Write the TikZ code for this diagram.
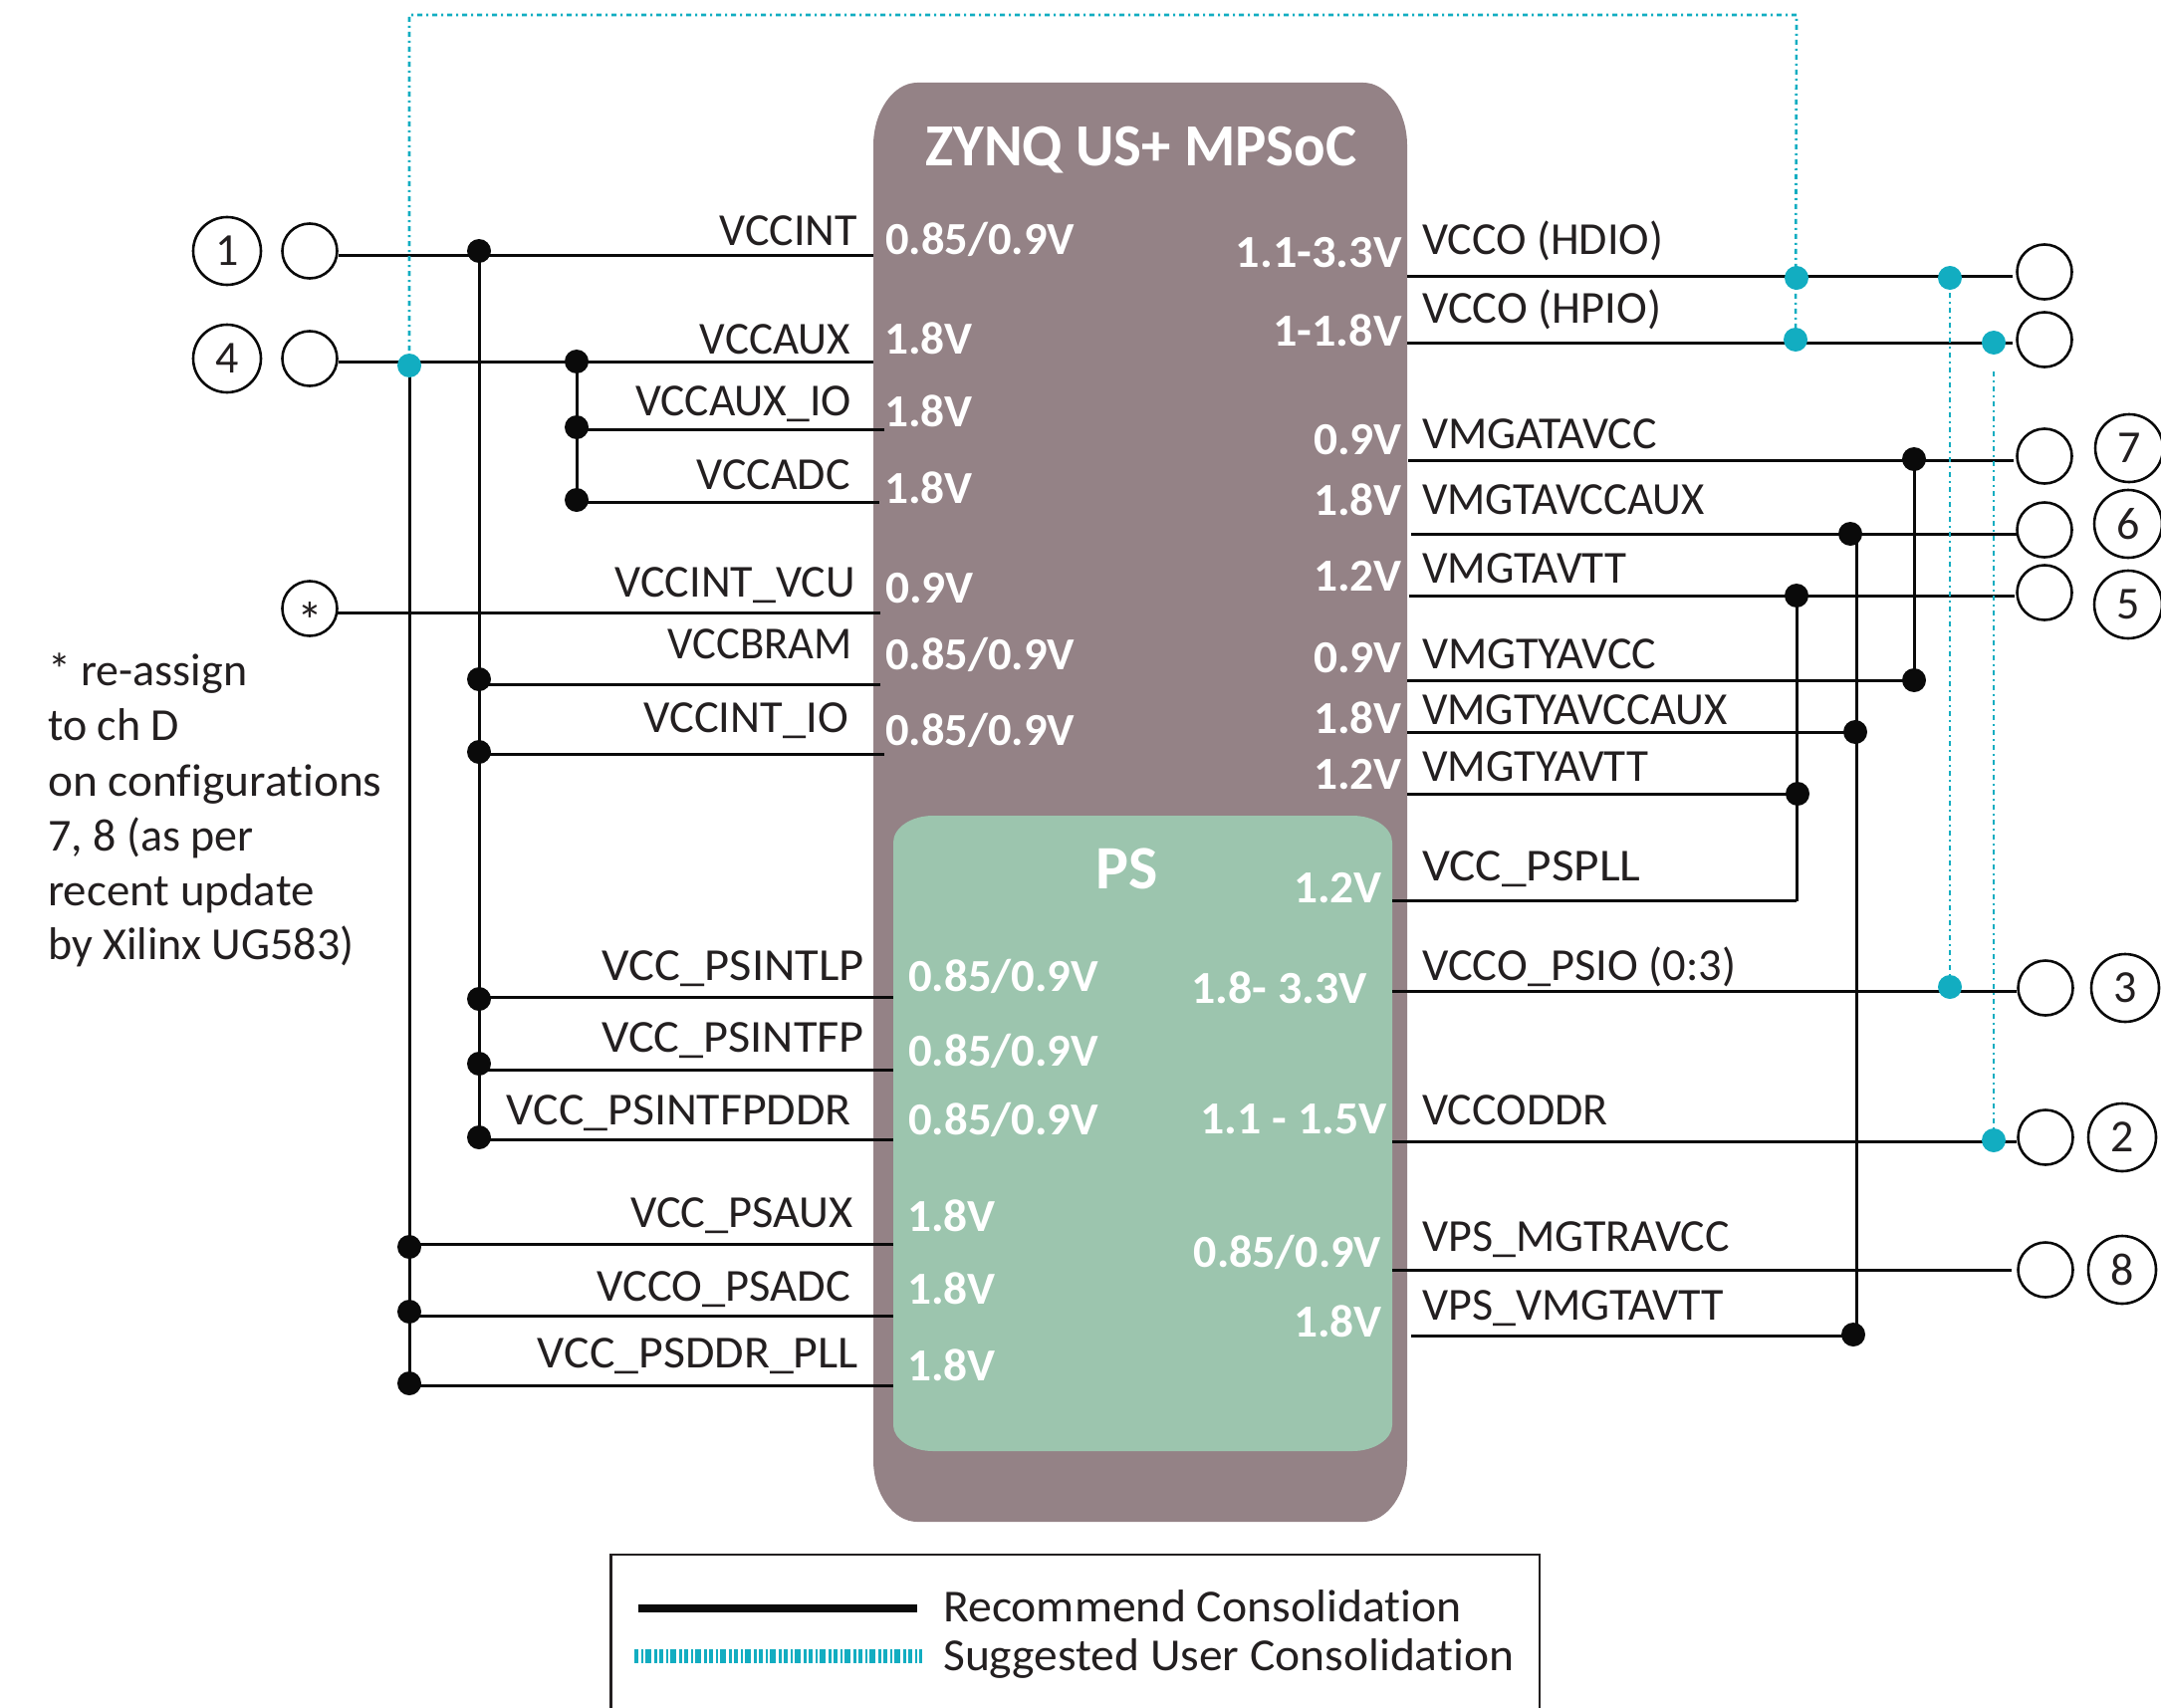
\documentclass[tikz,border=0pt]{standalone}
\usepackage{fontspec}
\usepackage{graphicx}
\setmainfont[Ligatures=NoCommon]{Carlito}
\newcommand{\sxb}[2]{\scalebox{#1}[1]{#2}}
\definecolor{chip}{HTML}{948286}
\definecolor{psgreen}{HTML}{9CC5AE}
\definecolor{cy}{HTML}{12ADC1}
\definecolor{ink}{HTML}{231F20}
\definecolor{blk}{HTML}{0A0A0A}
\tikzset{
  wire/.style={draw=blk,line width=3pt},
  sug/.style={draw=cy,line width=2.6pt,dash pattern=on 5pt off 4pt on 2pt off 4pt},
  bdot/.style={circle,fill=blk,inner sep=0pt,minimum size=24pt},
  cdot/.style={circle,fill=cy,inner sep=0pt,minimum size=24pt},
  term/.style={circle,draw=blk,line width=2.6pt,inner sep=0pt,minimum size=55pt,text=ink,font=\fontsize{52}{56}\selectfont},
  num/.style={circle,draw=blk,line width=2.6pt,inner sep=0pt,minimum size=68pt,text=ink,font=\fontsize{46}{50}\selectfont},
  lblR/.style={anchor=base east,inner sep=0pt,text=ink,font=\fontsize{46}{50}\selectfont},
  lblL/.style={anchor=base west,inner sep=0pt,text=ink,font=\fontsize{46}{50}\selectfont},
  voltL/.style={anchor=base west,inner sep=0pt,text=white,font=\fontsize{46}{50}\selectfont\bfseries},
  voltR/.style={anchor=base east,inner sep=0pt,text=white,font=\fontsize{46}{50}\selectfont\bfseries},
  ttl/.style={anchor=base,inner sep=0pt,text=white,font=\fontsize{60}{66}\selectfont\bfseries},
}
\begin{document}
\begin{tikzpicture}[x=1pt,y=-1pt]
\useasboundingbox (0,0) rectangle (2170,1715);
% chip bodies
\fill[chip] (877,146) .. controls (877,112) and (897,83) .. (921,83) -- (1369,83)
  .. controls (1393,83) and (1413,112) .. (1413,146) -- (1413,1466)
  .. controls (1413,1500) and (1393,1528) .. (1369,1528) -- (921,1528)
  .. controls (897,1528) and (877,1500) .. (877,1466) -- cycle;
\fill[psgreen] (897,846) .. controls (897,831) and (915,819) .. (937,819) -- (1358,819)
  .. controls (1380,819) and (1398,831) .. (1398,846) -- (1398,1431)
  .. controls (1398,1445) and (1380,1457) .. (1358,1457) -- (937,1457)
  .. controls (915,1457) and (897,1445) .. (897,1431) -- cycle;
% titles
\node[ttl] (chiptitle) at (1146,167) {\sxb{0.98}{ZYNQ US+ MPSoC}};
\node[ttl,font=\fontsize{62}{66}\selectfont\bfseries] (pstitle) at (1132,892) {PS};
% terminals
\node[num] (n1) at (228,252) {1};
\node[num] (n4) at (228,360) {4};
\node[term] (t1) at (311,252) {};
\node[term] (t4) at (311,360) {};
\node[term] (tstar) at (311,611) {\raisebox{-30pt}[0pt][0pt]{*}};
\node[term] (tr1) at (2053,273) {};
\node[term] (tr2) at (2053,341) {};
\node[term] (tr3) at (2053,458) {};
\node[term] (tr4) at (2053,532) {};
\node[term] (tr5) at (2053,595) {};
\node[term] (tr6) at (2054,992) {};
\node[term] (tr7) at (2054,1142) {};
\node[term] (tr8) at (2054,1275) {};
\node[num] (n7) at (2138,450) {7};
\node[num] (n6) at (2137,526) {6};
\node[num] (n5) at (2137,607) {5};
\node[num] (n3) at (2134,992) {3};
\node[num] (n2) at (2131,1142) {2};
\node[num] (n8) at (2131,1275) {8};
% wire ends
\foreach \n/\xa/\xb/\y in {
 vccint/340/877/256, vccaux/340/877/363, vccauxio/579/888/431, vccadc/579/883/504,
 vcu/337/884/615, bram/481/884/687, cio/481/888/757, lp/481/897/1001, fp/481/897/1074,
 ddr/481/897/1144, psaux/411/897/1249, psadc/411/897/1321.5, pll/411/897/1391.5,
 hdio/1413/2021/277, hpio/1413/2021/344, gata/1414/2022/462, gaux/1417/2026/536,
 gtt/1415/2023/598, yvcc/1413/1922/683, yaux/1413/1863/735, ytt/1413/1805/797,
 pspll/1398/1804/904, psio/1398/2025/995, oddr/1398/2025/1146, mgtr/1398/2020/1275,
 vmgt/1417/1861/1341}{
  \coordinate (\n-a) at (\xa,\y);
  \coordinate (\n-b) at (\xb,\y);
  \draw[wire] (\n-a) -- (\n-b);
}
% suggested consolidation
\coordinate (su1) at (411,15);
\coordinate (su2) at (1804,15);
\coordinate (su3) at (2002,373);
\coordinate (c0) at (411,367);
\coordinate (c1) at (1804,279);
\coordinate (c2) at (1803,341);
\coordinate (c3) at (1958,279);
\coordinate (c4) at (2002,344);
\coordinate (c5) at (1958,991);
\coordinate (c6) at (2002,1145);
\draw[sug] (c0) -- (su1) -- (su2) -- (c2);
\draw[sug] (c3) -- (c5);
\draw[sug] (su3) -- (c6);
% recommended buses
\node[bdot] (d1) at (481,252) {};
\node[bdot] (d2) at (481,682) {};
\node[bdot] (d3) at (481,755) {};
\node[bdot] (d4) at (481,1003) {};
\node[bdot] (d5) at (481,1068) {};
\node[bdot] (d6) at (481,1142) {};
\node[bdot] (a1) at (579,363) {};
\node[bdot] (a2) at (579,429) {};
\node[bdot] (a3) at (579,502) {};
\node[bdot] (p1) at (411,1252) {};
\node[bdot] (p2) at (411,1317) {};
\node[bdot] (p3) at (411,1389) {};
\node[bdot] (r1) at (1922,461) {};
\node[bdot] (r2) at (1922,683) {};
\node[bdot] (s1) at (1858,536) {};
\node[bdot] (s2) at (1863,735) {};
\node[bdot] (s3) at (1861,1340) {};
\node[bdot] (u1) at (1804,598) {};
\node[bdot] (u2) at (1805,797) {};
\coordinate (u3) at (1804,905);
\coordinate (s0) at (1864,536);
\coordinate (s9) at (1864,1340);
\draw[wire] (d1.center) -- (d6.center);
\draw[wire] (a1.center) -- (a3.center);
\draw[wire] (c0) -- (p3.center);
\draw[wire] (r1.center) -- (r2.center);
\draw[wire] (s0) -- (s9);
\draw[wire] (u1.center) -- (u3);
% cyan dots on top
\foreach \c/\x/\y in {e0/411/367,e1/1804/279,e2/1803/341,e3/1958/279,e4/2002/344,e5/1958/991,e6/2002/1145}
  \node[cdot] (\c) at (\x,\y) {};
% left labels
\node[lblR] (l1) at (861,246) {VCCINT};
\node[lblR] (l2) at (854,355) {\sxb{0.98}{VCCAUX}};
\node[lblR] (l3) at (855,417) {\sxb{0.99}{VCCAUX\_IO}};
\node[lblR] (l4) at (854,491) {VCCADC};
\node[lblR] (l5) at (859,599) {VCCINT\_VCU};
\node[lblR] (l6) at (856,661) {\sxb{0.97}{VCCBRAM}};
\node[lblR] (l7) at (852,735) {\sxb{1.01}{VCCINT\_IO}};
\node[lblR] (l8) at (868,984) {\sxb{1.055}{VCC\_PSINTLP}};
\node[lblR] (l9) at (868,1056) {\sxb{1.05}{VCC\_PSINTFP}};
\node[lblR] (l10) at (855,1129) {\sxb{1.04}{VCC\_PSINTFPDDR}};
\node[lblR] (l11) at (857,1232) {\sxb{1.01}{VCC\_PSAUX}};
\node[lblR] (l12) at (854,1306) {\sxb{1.01}{VCCO\_PSADC}};
\node[lblR] (l13) at (862,1373) {\sxb{1.04}{VCC\_PSDDR\_PLL}};
% right labels
\node[lblL] (m1) at (1428,255) {VCCO (HDIO)};
\node[lblL] (m2) at (1428,324) {\sxb{1.01}{VCCO (HPIO)}};
\node[lblL] (m3) at (1428,450) {VMGATAVCC};
\node[lblL] (m4) at (1428,516) {\sxb{0.972}{VMGTAVCCAUX}};
\node[lblL] (m5) at (1428,585) {\sxb{0.98}{VMGTAVTT}};
\node[lblL] (m6) at (1428,671) {VMGTYAVCC};
\node[lblL] (m7) at (1428,727) {\sxb{0.975}{VMGTYAVCCAUX}};
\node[lblL] (m8) at (1428,784) {\sxb{0.98}{VMGTYAVTT}};
\node[lblL] (m9) at (1428,884) {\sxb{1.07}{VCC\_PSPLL}};
\node[lblL] (m10) at (1428,984) {\sxb{1.01}{VCCO\_PSIO (0:3)}};
\node[lblL] (m11) at (1428,1129) {VCCODDR};
\node[lblL] (m12) at (1428,1256) {VPS\_MGTRAVCC};
\node[lblL] (m13) at (1428,1325) {VPS\_VMGTAVTT};
% chip voltages, left
\node[voltL] (v1) at (889,255) {\sxb{1.01}{0.85/0.9V}};
\node[voltL] (v2) at (888,355) {\sxb{1.03}{1.8V}};
\node[voltL] (v3) at (888,428) {\sxb{1.03}{1.8V}};
\node[voltL] (v4) at (888,505) {\sxb{1.03}{1.8V}};
\node[voltL] (v5) at (889,605) {\sxb{1.03}{0.9V}};
\node[voltL] (v6) at (889,672) {\sxb{1.01}{0.85/0.9V}};
\node[voltL] (v7) at (889,748) {\sxb{1.01}{0.85/0.9V}};
% chip voltages, right
\node[voltR] (w1) at (1408,268) {\sxb{1.05}{1.1-3.3V}};
\node[voltR] (w2) at (1408,347) {\sxb{1.05}{1-1.8V}};
\node[voltR] (w3) at (1408,456) {\sxb{1.03}{0.9V}};
\node[voltR] (w4) at (1408,517) {\sxb{1.03}{1.8V}};
\node[voltR] (w5) at (1408,593) {\sxb{1.03}{1.2V}};
\node[voltR] (w6) at (1408,675) {\sxb{1.03}{0.9V}};
\node[voltR] (w7) at (1408,736) {\sxb{1.03}{1.8V}};
\node[voltR] (w8) at (1408,792) {\sxb{1.03}{1.2V}};
% PS voltages
\node[voltL] (x1) at (912,995) {\sxb{1.015}{0.85/0.9V}};
\node[voltL] (x2) at (912,1070) {\sxb{1.015}{0.85/0.9V}};
\node[voltL] (x3) at (912,1139) {\sxb{1.015}{0.85/0.9V}};
\node[voltL] (x4) at (911,1236) {\sxb{1.03}{1.8V}};
\node[voltL] (x5) at (911,1309) {\sxb{1.03}{1.8V}};
\node[voltL] (x6) at (911,1386) {\sxb{1.03}{1.8V}};
\node[voltR] (y1) at (1388,906) {\sxb{1.03}{1.2V}};
\node[voltR] (y2) at (1373,1007) {\sxb{1.04}{1.8- 3.3V}};
\node[voltR] (y3) at (1393,1138) {\sxb{1.04}{1.1 - 1.5V}};
\node[voltR] (y4) at (1387,1272) {0.85/0.9V};
\node[voltR] (y5) at (1388,1342) {\sxb{1.03}{1.8V}};
% note
\node[lblL] (f1) at (48,688) {* re-assign};
\node[lblL] (f2) at (48,743) {to ch D};
\node[lblL] (f3) at (48,799) {\sxb{1.03}{on configurations}};
\node[lblL] (f4) at (48,854) {7, 8 (as per};
\node[lblL] (f5) at (48,909) {\sxb{1.02}{recent update}};
\node[lblL] (f6) at (48,963) {by Xilinx UG583)};
% legend
\coordinate (g1) at (613.5,1725);
\coordinate (g2) at (613.5,1561);
\coordinate (g3) at (1546,1561);
\coordinate (g4) at (1546,1725);
\draw[draw=ink,line width=2.2pt] (g1) -- (g2) -- (g3) -- (g4);
\coordinate (k1) at (641,1615);
\coordinate (k2) at (921,1615);
\coordinate (k3) at (637,1663);
\coordinate (k4) at (926,1663);
\draw[draw=blk,line width=8pt] (k1) -- (k2);
\draw[draw=cy,line width=14pt,dash pattern=on 4pt off 2.5pt on 2pt off 2.5pt on 6pt off 2.5pt on 3pt off 2.5pt] (k3) -- (k4);
\node[lblL] (k5) at (947,1628) {\sxb{1.037}{Recommend Consolidation}};
\node[lblL] (k6) at (947,1677) {\sxb{1.033}{Suggested User Consolidation}};
\end{tikzpicture}
\end{document}
